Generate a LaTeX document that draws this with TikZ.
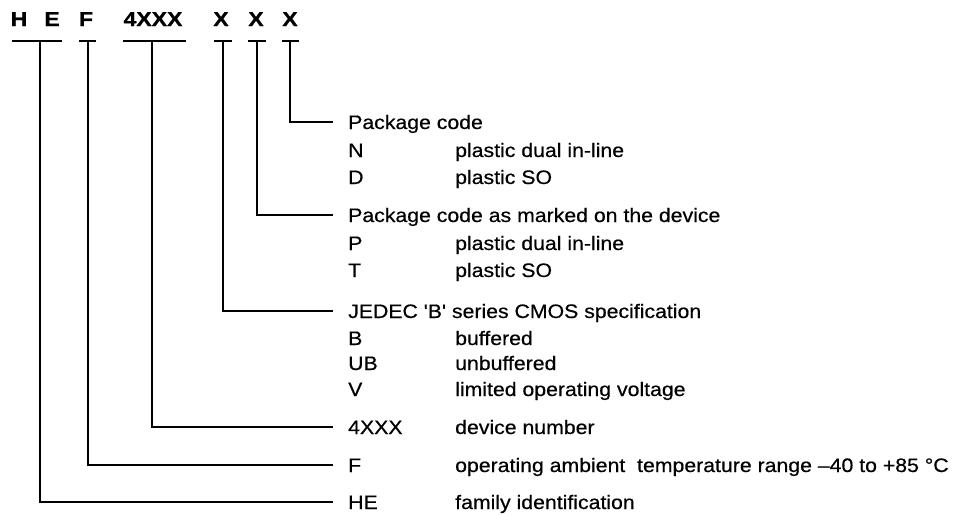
\documentclass[tikz,border=0pt]{standalone}
\usepackage{fontspec}
\setmainfont{Liberation Sans}
\newfontfamily\labfont[FakeStretch=1.09,FakeBold=0.5]{Liberation Sans}
\newfontfamily\hdfont[FakeStretch=1.15,FakeBold=0.8]{Liberation Sans}
\begin{document}
\begin{tikzpicture}[x=1pt,y=-1pt,
  ln/.style={line width=1.3pt},
  lab/.style={anchor=base west, inner sep=0pt, font=\labfont\fontsize{19.5}{21}\selectfont},
  hd/.style={anchor=base, inner sep=0pt, font=\hdfont\bfseries\fontsize{20}{21}\selectfont}]
\useasboundingbox (0,0) rectangle (955,514);
% top code letters
\node[hd] (tH) at (19,26) {H};
\node[hd] (tE) at (52,26) {E};
\node[hd] (tF) at (86,26) {F};
\node[hd] (t4) at (153,26) {4XXX};
\node[hd] (tX1) at (221,26) {X};
\node[hd] (tX2) at (256,26) {X};
\node[hd] (tX3) at (290,26) {X};
% bars
\draw[ln] (12,41) -- (62,41);
\draw[ln] (79,41) -- (96,41);
\draw[ln] (123,41) -- (186,41);
\draw[ln] (214,41) -- (232,41);
\draw[ln] (248,41) -- (266,41);
\draw[ln] (282,41) -- (299,41);
\coordinate (bHE) at (40,41);
\coordinate (bF) at (88,41);
\coordinate (b4) at (152,41);
\coordinate (bX1) at (223,41);
\coordinate (bX2) at (257,41);
\coordinate (bX3) at (290,41);
% connector ends
\coordinate (eX3) at (333,122);
\coordinate (eX2) at (333,215);
\coordinate (eX1) at (333,311);
\coordinate (e4) at (333,427);
\coordinate (eF) at (333,465);
\coordinate (eHE) at (333,502);
% labels
\node[lab] (pc) at (348,129) {Package code};
\node[lab] (n) at (348,157) {N};
\node[lab] (nd) at (455,157) {plastic dual in-line};
\node[lab] (d) at (348,184) {D};
\node[lab] (dd) at (455,184) {plastic SO};
\node[lab] (pm) at (348,222) {Package code as marked on the device};
\node[lab] (p) at (348,250) {P};
\node[lab] (pd) at (455,250) {plastic dual in-line};
\node[lab] (t) at (348,277) {T};
\node[lab] (td) at (455,277) {plastic SO};
\node[lab] (jd) at (348,318) {JEDEC 'B' series CMOS specification};
\node[lab] (b) at (348,345) {B};
\node[lab] (bd) at (455,345) {buffered};
\node[lab] (ub) at (348,370) {UB};
\node[lab] (ubd) at (455,370) {unbuffered};
\node[lab] (v) at (348,396) {V};
\node[lab] (vd) at (455,396) {limited operating voltage};
\node[lab] (dn) at (348,434) {4XXX};
\node[lab] (dnd) at (455,434) {device number};
\node[lab] (f) at (348,472) {F};
\node[lab] (fd) at (455,472) {operating ambient\ \ temperature range –40 to +85 °C};
\node[lab] (he) at (348,509) {HE};
\node[lab] (hed) at (455,509) {family identification};
% connectors
\draw[ln] (bX3) |- (eX3);
\draw[ln] (bX2) |- (eX2);
\draw[ln] (bX1) |- (eX1);
\draw[ln] (b4) |- (e4);
\draw[ln] (bF) |- (eF);
\draw[ln] (bHE) |- (eHE);
\end{tikzpicture}
\end{document}
